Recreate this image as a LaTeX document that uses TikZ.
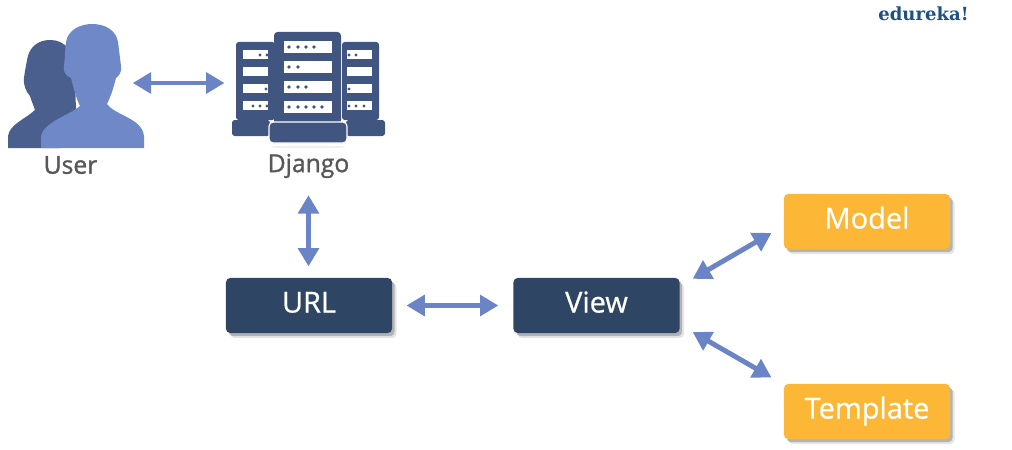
\documentclass[tikz,border=0pt]{standalone}
\usepackage{fontspec}
\setmainfont{Open Sans}
\newfontfamily\labelfont{Open Sans}[RawFeature={embolden=0.7}]
\newfontfamily\captionfont{Open Sans}[RawFeature={embolden=1.3}]
\newfontfamily\brandfont{DejaVu Serif}
\usetikzlibrary{arrows.meta}
\usetikzlibrary{shadows}
\definecolor{arrowblue}{HTML}{6B84C6}
\definecolor{frontblue}{HTML}{6F88C8}
\definecolor{backblue}{HTML}{4B5F8E}
\definecolor{serverblue}{HTML}{40557F}
\definecolor{darkbox}{HTML}{2E4664}
\definecolor{yellowbox}{HTML}{FBB735}
\definecolor{labelgrey}{HTML}{58585A}
\definecolor{brandblue}{HTML}{1C5180}
\tikzset{link/.style = {draw = arrowblue, line width = 3.5pt,
                        {Triangle[length=13pt,width=14.5pt]}-{Triangle[length=13pt,width=14.5pt]}},
         box/.style = {rounded corners = 3pt, minimum width = 117.7pt, minimum height = 39pt,
                       inner sep = 0pt, text = white, font = \labelfont\fontsize{20.5}{24}\selectfont,
                       text height = 14pt, text depth = 4pt,
                       drop shadow = {shadow xshift = 3.2pt, shadow yshift = -3.6pt,
                                      fill = black, opacity = 0.10},
                       drop shadow = {shadow xshift = 1.8pt, shadow yshift = -2.2pt,
                                      fill = black, opacity = 0.22}},
         darkbg/.style = {box, fill = darkbox},
         yellowbg/.style = {box, fill = yellowbox},
         icon/.style = {inner sep = 0pt, minimum width = #1},
         caption/.style = {text = labelgrey, inner sep = 0pt, font = \captionfont\fontsize{17.5}{20}\selectfont}}

\begin{document}
\begin{tikzpicture}[x = 0.7087pt, y = -0.7087pt]
    \useasboundingbox (0, 0) rectangle (1012, 450);

    % people
    \fill [backblue] (8, 148) -- (8, 136) .. controls (10, 124) and (24, 120) .. (35, 110)
      .. controls (33, 104) and (31, 100) .. (30, 96) .. controls (26, 92) and (23, 84) .. (24, 78)
      .. controls (25, 70) and (26, 66) .. (27, 60) .. controls (29, 47) and (38, 40) .. (50, 40)
      .. controls (65, 40) and (75, 50) .. (75, 80) -- (76, 110) -- (60, 148) -- cycle;
    \fill [frontblue] (41, 148) -- (41, 136) .. controls (44, 122) and (68, 116) .. (80, 106)
      .. controls (77, 100) and (74, 90) .. (71, 78) .. controls (66, 76) and (63, 72) .. (64, 66)
      .. controls (65, 58) and (65, 50) .. (66, 42) .. controls (68, 30) and (80, 24) .. (92, 24)
      .. controls (105, 24) and (116, 30) .. (118, 42) .. controls (119, 50) and (120, 58) .. (121, 66)
      .. controls (122, 72) and (119, 76) .. (116, 78) .. controls (113, 90) and (110, 98) .. (107, 104)
      .. controls (116, 116) and (142, 118) .. (144, 136) -- (144, 148) -- cycle;

    % servers
    \fill [gray!12] (308, 147) ellipse (38 and 1.5);
    \foreach \left/\right in {236/275, 342/379}
      \fill [serverblue, rounded corners = 2pt] (\left, 42) rectangle (\right, 120);
    \fill [serverblue, rounded corners = 2pt] (232, 120) rectangle (270, 136);
    \fill [serverblue, rounded corners = 2pt] (346, 120) rectangle (385, 136);
    \foreach \top in {50, 67, 84, 101} {
      \fill [white] (243, \top) rectangle (268, \top + 9);
      \fill [white] (347, \top) rectangle (372, \top + 9);
    }
    \foreach \dotx/\doty in {260/55, 267/55, 266/89, 253/106, 260/106, 267/106,
                             349/55, 356/55, 349/89, 349/106, 356/106, 364/106}
      \fill [serverblue] (\dotx, \doty) circle (1.6);
    \fill [serverblue, rounded corners = 2.5pt] (274, 32) rectangle (341, 124);
    \foreach \top in {41, 61, 81, 101}
      \fill [white] (284, \top) rectangle (332, \top + 12);
    \foreach \dotx/\doty in {289/47, 298/47, 306/47, 314/47, 289/67, 298/67, 289/87, 298/87, 306/87,
                             289/107, 298/107, 306/107, 314/107, 322/107}
      \fill [serverblue] (\dotx, \doty) circle (1.8);
    \draw [white, fill = serverblue, line width = 0.8pt, rounded corners = 3pt] (269, 122) rectangle (347, 143);

    \node [icon = 96pt, minimum height = 90pt] (user) at (76, 83) {};
    \node [icon = 108pt, minimum height = 80pt] (django) at (308, 83) {};
    \node [caption] (userlabel) at (70.5, 165) {User};
    \node [caption] (djangolabel) at (308.5, 166) {Django};
    \node [text = brandblue, inner sep = 0pt, font = \brandfont\bfseries\fontsize{12.8}{16}\selectfont] (brand) at (923.5, 14) {edureka!};

    \node [darkbg] (url) at (309, 305.5) {URL};
    \node [darkbg] (view) at (596.5, 305.5) {View};
    \node [yellowbg] (model) at (867, 221.5) {Model};
    \node [yellowbg] (template) at (867, 411.5) {Template};

    \draw [link, shorten < = -8pt, shorten > = 5pt] (user.east) -- (django.west);
    \draw [link, shorten < = 12pt, shorten > = 8pt] (djangolabel.south) -- (djangolabel.south |- url.north);
    \draw [link, shorten < = 10pt, shorten > = 10.5pt] (url.east) -- (view.west);
    \draw [link, shorten < = 10.5pt, shorten > = 10pt] (view.13.5) -- (model.183.1);
    \draw [link, shorten < = 10.5pt, shorten > = 10pt] (view.-13.5) -- (template.162.9);
  \end{tikzpicture}
\end{document}
